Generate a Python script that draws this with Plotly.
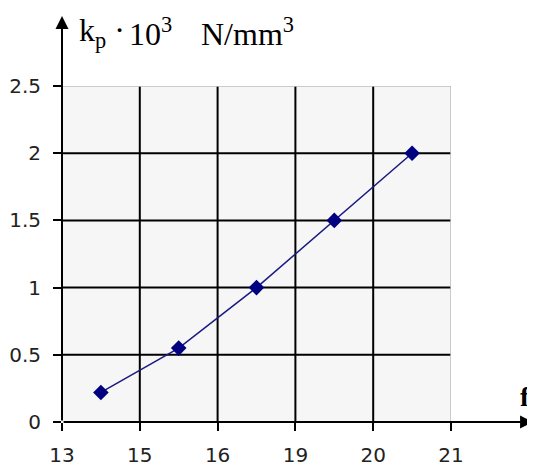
import plotly.graph_objects as go

# data
f_tick_labels = ["13", "15", "16", "19", "20", "21"]
f_positions = [0.5, 1.5, 2.5, 3.5, 4.5]   # points lie midway between category ticks
kp_values = [0.22, 0.55, 1.0, 1.5, 2.0]
y_ticks = [0, 0.5, 1, 1.5, 2, 2.5]
y_tick_labels = ["0", "0.5", "1", "1.5", "2", "2.5"]

fig = go.Figure()
fig.add_trace(go.Scatter(
    x=f_positions, y=kp_values, mode="lines+markers",
    line=dict(color="#1a1a80", width=1.5),
    marker=dict(symbol="diamond", size=12, color="#000080"),
    cliponaxis=False, showlegend=False,
))

nx = len(f_tick_labels) - 1
ymax = y_ticks[-1]

shapes = []
for i in range(1, nx):
    shapes.append(dict(type="line", xref="x", yref="y", x0=i, x1=i, y0=0, y1=ymax,
                       line=dict(color="black", width=2), layer="below"))
for v in y_ticks[1:-1]:
    shapes.append(dict(type="line", xref="x", yref="y", x0=0, x1=nx, y0=v, y1=v,
                       line=dict(color="black", width=2), layer="below"))
shapes.append(dict(type="line", xref="x", yref="y", x0=0, x1=nx, y0=ymax, y1=ymax,
                   line=dict(color="#bdbdbd", width=1.5), layer="below"))
shapes.append(dict(type="line", xref="x", yref="y", x0=nx, x1=nx, y0=0, y1=ymax,
                   line=dict(color="#bdbdbd", width=1.5), layer="below"))

tick_font = dict(family="DejaVu Sans", size=20, color="#222")
fig.update_layout(
    width=535, height=468,
    margin=dict(l=54, r=92, t=78, b=54),
    paper_bgcolor="white", plot_bgcolor="#f6f6f6",
    shapes=shapes,
    xaxis=dict(range=[0, nx], tickvals=list(range(len(f_tick_labels))), ticktext=f_tick_labels,
               showgrid=False, zeroline=False, showline=False, automargin=False,
               ticks="outside", ticklen=8, tickwidth=2, tickcolor="black",
               tickfont=tick_font, ticklabelstandoff=7),
    yaxis=dict(range=[0, ymax], tickvals=y_ticks, ticktext=y_tick_labels,
               showgrid=False, zeroline=False, showline=False, automargin=False,
               ticks="outside", ticklen=8, tickwidth=2, tickcolor="black",
               tickfont=tick_font, ticklabelstandoff=8),
    font=dict(family="Liberation Sans"),
)

# axis arrows (paper-referenced so they are never hidden)
fig.add_annotation(x=1.211, y=0, xref="paper", yref="paper", ax=-471, ay=0,
                   axref="pixel", ayref="pixel",
                   showarrow=True, arrowhead=2, arrowsize=1.3, arrowwidth=2, arrowcolor="black", text="")
fig.add_annotation(x=0, y=1.208, xref="paper", yref="paper", ax=0, ay=406,
                   axref="pixel", ayref="pixel",
                   showarrow=True, arrowhead=2, arrowsize=1.3, arrowwidth=2, arrowcolor="black", text="")

# y-axis title pieces
title_font = dict(family="Liberation Serif", size=32, color="black")
for txt, px in [("k<sub>p</sub> ·", 0.038), ("10<sup>3</sup>", 0.168), ("N/mm<sup>3</sup>", 0.352)]:
    fig.add_annotation(xref="paper", yref="paper", x=px, y=1.16, xanchor="left", yanchor="middle",
                       showarrow=False, text=txt, font=title_font)
# x-axis title
fig.add_annotation(xref="paper", yref="paper", x=1.172, y=0.075, xanchor="left", yanchor="middle",
                   showarrow=False, text="<b>f</b>",
                   font=dict(family="Liberation Serif", size=28, color="black"))

fig.write_html("out.html")
